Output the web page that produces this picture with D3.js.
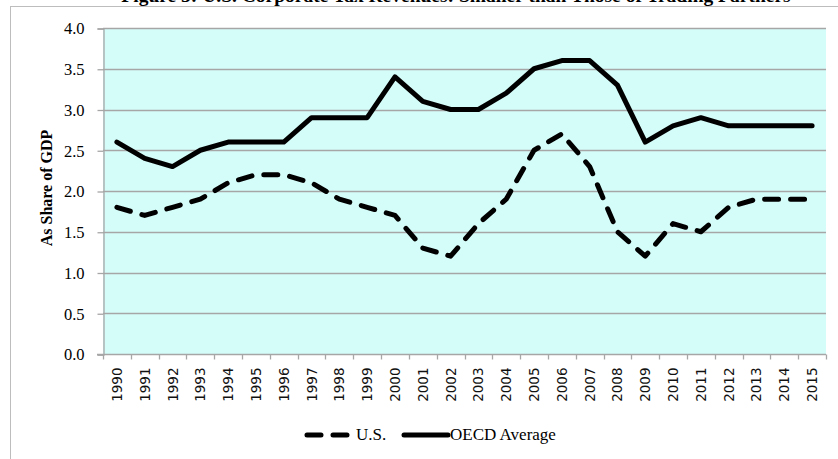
<!DOCTYPE html>
<html>
<head>
<meta charset="utf-8">
<script src="https://cdn.jsdelivr.net/npm/d3@7"></script>
<style>
    body { margin: 0; background: #fff; }
    svg { display: block; }
</style>
</head>
<body>
<svg id="chart" width="838" height="459"></svg>
<script>

var years = ['1990', '1991', '1992', '1993', '1994', '1995', '1996', '1997', '1998', '1999',
    '2000', '2001', '2002', '2003', '2004', '2005', '2006', '2007', '2008', '2009',
    '2010', '2011', '2012', '2013', '2014', '2015'];

var usValues = [1.8, 1.7, 1.8, 1.9, 2.1, 2.2, 2.2, 2.1, 1.9, 1.8,
    1.7, 1.3, 1.2, 1.6, 1.9, 2.5, 2.7, 2.3, 1.5, 1.2,
    1.6, 1.5, 1.8, 1.9, 1.9, 1.9];

var oecdValues = [2.6, 2.4, 2.3, 2.5, 2.6, 2.6, 2.6, 2.9, 2.9, 2.9,
    3.4, 3.1, 3.0, 3.0, 3.2, 3.5, 3.6, 3.6, 3.3, 2.6,
    2.8, 2.9, 2.8, 2.8, 2.8, 2.8];

var yTicks = [0, 0.5, 1, 1.5, 2, 2.5, 3, 3.5, 4];

var seriesNames = ['U.S.', 'OECD Average'];

const gridColor = '#a6a6a6';
const serif = '"Liberation Serif", "Times New Roman", serif';
const dashes = '14,12';

var svg = d3.select('#chart');

// plot area bounds ("top" is taken by window.top)
var plotLeft = 103, plotRight = 826, plotTop = 28, plotBottom = 354;

var x = d3.scaleBand().domain(years).range([plotLeft, plotRight]);
var y = d3.scaleLinear().domain([0, 4]).range([plotBottom, plotTop]);

// outer frame of the figure
svg.append('rect')
    .attr('x', 10.5).attr('y', 6.5)
    .attr('width', 900).attr('height', 500)
    .attr('fill', 'none')
    .attr('stroke', '#bdbdbd');

// title, partly cut off by the top edge
svg.append('text')
    .attr('x', 456).attr('y', 2)
    .attr('text-anchor', 'middle')
    .style('font-family', serif)
    .style('font-weight', 'bold')
    .style('font-size', '19.5px')
    .text('Figure 5: U.S. Corporate Tax Revenues: Smaller than Those of Trading Partners');

svg.append('rect')
    .attr('x', plotLeft).attr('y', plotTop)
    .attr('width', plotRight - plotLeft).attr('height', plotBottom - plotTop)
    .attr('fill', '#d4fcf8');

svg.append('g')
    .selectAll('line')
    .data(yTicks.slice(1))
    .join('line')
    .attr('x1', plotLeft).attr('x2', plotRight)
    .attr('y1', d => Math.round(y(d)) + 0.5)
    .attr('y2', d => Math.round(y(d)) + 0.5)
    .attr('stroke', gridColor)
    .attr('stroke-width', 1.3);

// y axis
var yAxis = svg.append('g')
    .attr('transform', 'translate(' + (plotLeft + 0.5) + ',0.5)')
    .call(d3.axisLeft(y).tickValues(yTicks).tickFormat(d3.format('.1f')).tickSize(6).tickPadding(13));

yAxis.selectAll('line, path').attr('stroke', gridColor).attr('stroke-width', 1.3);
yAxis.selectAll('text')
    .style('font-family', serif)
    .style('font-size', '16.5px')
    .attr('fill', '#000');

// x axis, ticks on the category boundaries
var xAxis = svg.append('g')
    .attr('transform', 'translate(0,' + (plotBottom + 0.5) + ')');

xAxis.append('line')
    .attr('x1', plotLeft - 6).attr('x2', plotRight)
    .attr('stroke', gridColor).attr('stroke-width', 1.3);

xAxis.selectAll('.tick')
    .data(years.concat(['end']))
    .join('line')
    .attr('x1', (d, i) => Math.round(plotLeft + i * x.step()) + 0.5)
    .attr('x2', (d, i) => Math.round(plotLeft + i * x.step()) + 0.5)
    .attr('y1', 0).attr('y2', 5)
    .attr('stroke', gridColor).attr('stroke-width', 1.3);

xAxis.selectAll('text')
    .data(years)
    .join('text')
    .attr('transform', d => 'translate(' + (x(d) + x.bandwidth() / 2 + 5) + ',13) rotate(-90)')
    .attr('text-anchor', 'end')
    .attr('fill', '#111')
    .style('font-family', '"DejaVu Sans", Verdana, sans-serif')
    .style('font-size', '13.5px')
    .text(d => d);

svg.append('text')
    .attr('transform', 'translate(52,188) rotate(-90)')
    .attr('text-anchor', 'middle')
    .style('font-family', serif)
    .style('font-weight', 'bold')
    .style('font-size', '16px')
    .text('As Share of GDP');

var line = d3.line()
    .x((d, i) => x(years[i]) + x.bandwidth() / 2)
    .y(d => y(d));

svg.append('path')
    .datum(oecdValues)
    .attr('d', line)
    .attr('fill', 'none')
    .attr('stroke', '#000')
    .attr('stroke-width', 5)
    .attr('stroke-linecap', 'round')
    .attr('stroke-linejoin', 'round');

svg.append('path')
    .datum(usValues)
    .attr('d', line)
    .attr('fill', 'none')
    .attr('stroke', '#000')
    .attr('stroke-width', 5)
    .attr('stroke-dasharray', dashes)
    .attr('stroke-linecap', 'round')
    .attr('stroke-linejoin', 'round');

// legend
var legendY = 435;
var legend = [
    {x1: 307, x2: 348, dash: dashes, labelX: 356},
    {x1: 404, x2: 448, dash: null, labelX: 450}
];

legend.forEach(function (item, i) {
    svg.append('line')
        .attr('x1', item.x1).attr('x2', item.x2)
        .attr('y1', legendY).attr('y2', legendY)
        .attr('stroke', '#000')
        .attr('stroke-width', 5)
        .attr('stroke-linecap', 'round')
        .attr('stroke-dasharray', item.dash);

    svg.append('text')
        .attr('x', item.labelX).attr('y', legendY + 5)
        .style('font-family', serif)
        .style('font-size', '17px')
        .text(seriesNames[i]);
});

</script>
</body>
</html>
